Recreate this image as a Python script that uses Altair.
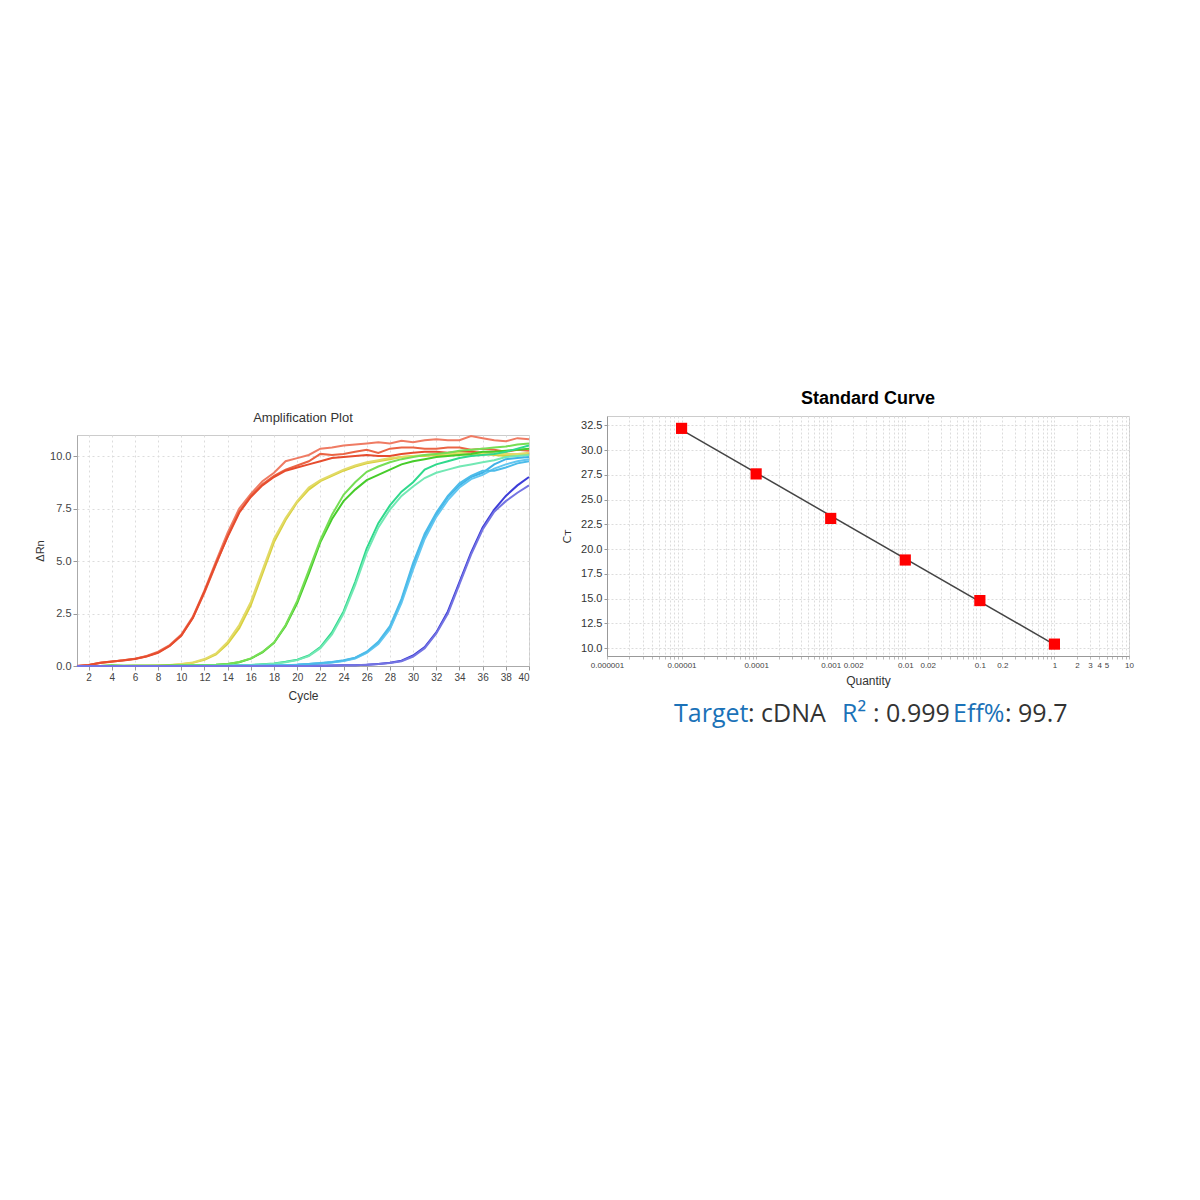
import altair as alt
import pandas as pd

# ---------------- Amplification plot data ----------------
cycles = list(range(1, 41))

red_a = [0.0, 0.05, 0.15, 0.22, 0.28, 0.35, 0.48, 0.68, 1.0, 1.5, 2.35, 3.6, 5.0, 6.35, 7.5, 8.2, 8.8, 9.2, 9.75, 9.9,
         10.05, 10.35, 10.4, 10.5, 10.55, 10.6, 10.65, 10.6, 10.72, 10.65, 10.75, 10.8, 10.75, 10.75, 10.95, 10.85, 10.75, 10.7, 10.85, 10.8]
red_b = [0.0, 0.04, 0.14, 0.2, 0.27, 0.34, 0.46, 0.65, 0.97, 1.45, 2.3, 3.5, 4.85, 6.2, 7.35, 8.1, 8.65, 9.05, 9.35, 9.55,
         9.75, 10.1, 10.05, 10.1, 10.2, 10.3, 10.15, 10.35, 10.4, 10.4, 10.35, 10.35, 10.4, 10.4, 10.3, 10.35, 10.3, 10.2, 10.3, 10.25]
red_c = [0.0, 0.05, 0.15, 0.21, 0.26, 0.33, 0.45, 0.63, 0.95, 1.45, 2.3, 3.55, 4.9, 6.15, 7.3, 8.05, 8.6, 9.0, 9.3, 9.45,
         9.6, 9.75, 9.9, 9.95, 10.0, 10.05, 10.0, 10.0, 10.1, 10.15, 10.2, 10.2, 10.15, 10.2, 10.2, 10.15, 10.1, 10.05, 10.1, 10.1]
yel_a = [0.0, 0.0, 0.0, 0.0, 0.0, 0.01, 0.01, 0.02, 0.04, 0.08, 0.15, 0.3, 0.55, 1.05, 1.8, 2.9, 4.4, 5.9, 6.95, 7.8,
         8.4, 8.8, 9.05, 9.3, 9.5, 9.65, 9.75, 9.85, 9.95, 10.0, 10.0, 10.05, 10.05, 10.1, 10.05, 10.1, 10.05, 10.0, 10.05, 10.05]
yel_b = [0.0, 0.0, 0.0, 0.0, 0.0, 0.01, 0.01, 0.02, 0.05, 0.09, 0.17, 0.33, 0.6, 1.15, 1.95, 3.05, 4.55, 6.05, 7.05, 7.85,
         8.5, 8.85, 9.1, 9.35, 9.55, 9.7, 9.8, 9.9, 9.95, 10.0, 10.05, 10.1, 10.1, 10.15, 10.1, 10.15, 10.1, 10.1, 10.1, 10.15]
grn_a = [0.0, 0.0, 0.0, 0.02, 0.01, 0.01, 0.01, 0.01, 0.02, 0.02, 0.03, 0.04, 0.06, 0.1, 0.18, 0.35, 0.65, 1.1, 1.9, 3.0,
         4.4, 5.9, 7.0, 7.85, 8.4, 8.85, 9.1, 9.35, 9.6, 9.75, 9.85, 9.95, 10.0, 10.05, 10.1, 10.2, 10.2, 10.25, 10.3, 10.35]
grn_b = [0.0, 0.0, 0.0, 0.03, 0.01, 0.01, 0.01, 0.01, 0.02, 0.02, 0.03, 0.04, 0.06, 0.1, 0.19, 0.36, 0.67, 1.12, 1.95, 3.1,
         4.55, 6.0, 7.2, 8.15, 8.75, 9.25, 9.5, 9.7, 9.85, 9.95, 10.05, 10.1, 10.15, 10.25, 10.3, 10.35, 10.4, 10.45, 10.55, 10.6]
tea_a = [0.0, 0.0, 0.0, 0.0, 0.0, 0.0, 0.0, 0.0, 0.0, 0.01, 0.01, 0.01, 0.01, 0.02, 0.03, 0.05, 0.08, 0.12, 0.2, 0.3,
         0.5, 0.9, 1.6, 2.6, 4.0, 5.6, 6.8, 7.65, 8.3, 8.75, 9.35, 9.6, 9.75, 9.9, 10.0, 10.05, 10.1, 10.2, 10.35, 10.5]
tea_b = [0.0, 0.0, 0.0, 0.0, 0.0, 0.0, 0.0, 0.0, 0.0, 0.01, 0.01, 0.01, 0.01, 0.02, 0.03, 0.05, 0.07, 0.11, 0.18, 0.28,
         0.47, 0.85, 1.5, 2.5, 3.85, 5.4, 6.6, 7.45, 8.1, 8.55, 8.95, 9.2, 9.35, 9.5, 9.6, 9.7, 9.8, 9.95, 10.0, 10.05]
blu_a = [0.0, 0.0, 0.0, 0.0, 0.0, 0.0, 0.0, 0.0, 0.0, 0.0, 0.0, 0.0, 0.0, 0.0, 0.01, 0.01, 0.01, 0.02, 0.04, 0.06,
         0.1, 0.13, 0.18, 0.25, 0.38, 0.65, 1.1, 1.8, 3.1, 4.8, 6.2, 7.2, 8.05, 8.6, 9.0, 9.2, 9.6, 9.85, 9.9, 9.95]
blu_b = [0.0, 0.0, 0.0, 0.0, 0.0, 0.0, 0.0, 0.0, 0.0, 0.0, 0.0, 0.0, 0.0, 0.0, 0.01, 0.01, 0.01, 0.02, 0.04, 0.06,
         0.09, 0.12, 0.17, 0.24, 0.36, 0.62, 1.05, 1.75, 3.0, 4.6, 6.05, 7.1, 7.9, 8.5, 8.9, 9.1, 9.4, 9.6, 9.75, 9.85]
blu_c = [0.0, 0.0, 0.0, 0.0, 0.0, 0.0, 0.0, 0.0, 0.0, 0.0, 0.0, 0.0, 0.0, 0.0, 0.01, 0.01, 0.01, 0.02, 0.04, 0.06,
         0.1, 0.14, 0.19, 0.27, 0.4, 0.68, 1.15, 1.9, 3.2, 4.9, 6.3, 7.3, 8.1, 8.7, 9.05, 9.3, 9.3, 9.45, 9.65, 9.75]
ind_a = [0.0, 0.0, 0.0, 0.0, 0.0, 0.0, 0.0, 0.0, 0.0, 0.0, 0.0, 0.0, 0.0, 0.0, 0.0, 0.0, 0.0, 0.0, 0.0, 0.0,
         0.0, 0.01, 0.02, 0.03, 0.04, 0.06, 0.1, 0.15, 0.25, 0.5, 0.9, 1.6, 2.6, 4.0, 5.4, 6.6, 7.45, 8.1, 8.6, 9.0]
ind_b = [0.0, 0.0, 0.0, 0.0, 0.0, 0.0, 0.0, 0.0, 0.0, 0.0, 0.0, 0.0, 0.0, 0.0, 0.0, 0.0, 0.0, 0.0, 0.0, 0.0,
         0.0, 0.01, 0.02, 0.03, 0.04, 0.06, 0.09, 0.14, 0.23, 0.45, 0.85, 1.55, 2.5, 3.9, 5.3, 6.5, 7.35, 7.85, 8.25, 8.6]

rep_names = ["R1", "R2", "R3", "Y1", "Y2", "G1", "G2", "T1", "T2", "B1", "B2", "B3", "I1", "I2"]
rep_series = [red_a, red_b, red_c, yel_a, yel_b, grn_a, grn_b, tea_a, tea_b, blu_a, blu_b, blu_c, ind_a, ind_b]
rep_colors = ["#ef7b63", "#ea6444", "#e64c2e", "#d8d03e", "#e2da66", "#46cc2a", "#76de54",
              "#2fd98c", "#72e8b4", "#3fb2e6", "#62c6f0", "#4cbbe9", "#3c3cd8", "#7474e2"]

rows = []
for name, series in zip(rep_names, rep_series):
    for c, v in zip(cycles, series):
        rows.append({"cycle": c, "dRn": v, "rep": name})
amp_df = pd.DataFrame(rows)

cycle_ticks = list(range(2, 41, 2))
drn_ticks = [0.0, 2.5, 5.0, 7.5, 10.0]

# ---------------- Standard curve data ----------------
quantity = [0.00001, 0.0001, 0.001, 0.01, 0.1, 1]
ct = [32.2, 27.6, 23.1, 18.9, 14.8, 10.4]
fit_quantity = [0.00001, 1]
fit_ct = [32.05, 10.35]
ct_ticks = [10.0, 12.5, 15.0, 17.5, 20.0, 22.5, 25.0, 27.5, 30.0, 32.5]
q_labels = ["0.000001", "0.00001", "0.0001", "0.001", "0.002", "0.01", "0.02", "0.1", "0.2",
            "1", "2", "3", "4", "5", "10"]
q_grid = []
for e in range(-6, 1):
    for k in range(1, 10):
        q_grid.append(float(f"{k}e{e}"))
q_grid.append(10.0)

ann_texts = ["Target", ": cDNA", "R²", ": 0.999", "Eff%", ": 99.7"]
ann_colors = ["#1b72b8", "#333333", "#1b72b8", "#333333", "#1b72b8", "#333333"]
ann_x = [67, 141, 235, 266, 346, 398]

AX_FONT = "Liberation Sans Narrow, Liberation Sans, Arial, sans-serif"

# ---------------- Left chart ----------------
amp = alt.Chart(amp_df).mark_line(strokeWidth=2).encode(
    x=alt.X("cycle:Q",
            scale=alt.Scale(domain=[1, 40], nice=False, zero=False),
            axis=alt.Axis(values=cycle_ticks, title="Cycle", labelFont=AX_FONT, labelFontSize=10,
                          labelColor="#444", titleFont=AX_FONT, titleFontSize=12, titleFontWeight="normal",
                          titleColor="#333", titlePadding=8, tickSize=4, tickColor="#999",
                          domainColor="#aaa", gridColor="#dcdcdc", gridDash=[2, 3], labelPadding=2)),
    y=alt.Y("dRn:Q",
            scale=alt.Scale(domain=[0, 11], nice=False),
            axis=alt.Axis(values=drn_ticks, format=".1f", title="ΔRn", labelFont=AX_FONT, labelFontSize=11,
                          labelColor="#444", titleFont=AX_FONT, titleFontSize=11, titleFontWeight="normal",
                          titleColor="#333", titlePadding=4, tickSize=4, tickColor="#999",
                          domainColor="#aaa", gridColor="#dcdcdc", gridDash=[2, 3], labelPadding=2)),
    color=alt.Color("rep:N", scale=alt.Scale(domain=rep_names, range=rep_colors), legend=None),
    detail="rep:N",
).properties(
    width=452, height=231,
    title=alt.TitleParams("Amplification Plot", font=AX_FONT, fontSize=13, fontWeight="normal",
                          color="#333", offset=7),
)

# invisible spacer that lets the left plot sit lower than the right one
spacer = alt.Chart(pd.DataFrame({"s": [""]})).mark_text(opacity=0, fontSize=1).encode(
    text="s:N", x=alt.value(0), y=alt.value(0)
).properties(width=1, height=1, view=alt.ViewBackground(stroke="transparent"))

left = alt.vconcat(spacer, amp, spacing=-7)

# ---------------- Right chart ----------------
label_list = "[" + ",".join(f"'{s}'" for s in q_labels) + "]"
std_df = pd.DataFrame({"quantity": quantity, "ct": ct})
fit_df = pd.DataFrame({"quantity": fit_quantity, "ct": fit_ct})

x_enc = alt.X("quantity:Q",
              scale=alt.Scale(type="log", domain=[0.000001, 10], nice=False),
              axis=alt.Axis(values=q_grid, format=".6~f",
                            labelExpr=f"indexof({label_list}, datum.label) >= 0 ? datum.label : ''",
                            title="Quantity", labelFont=AX_FONT, labelFontSize=8, labelColor="#444",
                            titleFont=AX_FONT, titleFontSize=12, titleFontWeight="normal", titleColor="#333",
                            titlePadding=6, tickSize=3, tickColor="#bbb", domainColor="#999",
                            gridColor="#dcdcdc", gridDash=[2, 2], labelPadding=2, labelOverlap=False,
                            labelFlush=False))
y_enc = alt.Y("ct:Q",
              scale=alt.Scale(domain=[9.2, 33.45], nice=False, zero=False),
              axis=alt.Axis(values=ct_ticks, format=".1f", title="Cᴛ", labelFont=AX_FONT, labelFontSize=11,
                            labelColor="#333", titleFont="DejaVu Sans, Liberation Sans, sans-serif",
                            titleFontSize=11, titleFontWeight="normal", titleColor="#333", titlePadding=8,
                            tickSize=3, tickColor="#999", domainColor="#999", gridColor="#dcdcdc",
                            gridDash=[2, 2], labelPadding=2))

fit_line = alt.Chart(fit_df).mark_line(color="#444444", strokeWidth=1.5).encode(x=x_enc, y=y_enc)
pts = alt.Chart(std_df).mark_square(size=125, color="#ff0000", opacity=1).encode(x=x_enc, y=y_enc)

ann_layers = []
for t, col, xp in zip(ann_texts, ann_colors, ann_x):
    ann_layers.append(
        alt.Chart(pd.DataFrame({"t": [t]})).mark_text(
            font="Open Sans, Noto Sans, sans-serif", fontSize=25, align="left", baseline="alphabetic",
            color=col,
        ).encode(x=alt.value(xp), y=alt.value(306), text="t:N")
    )

std = alt.layer(fit_line, pts, *ann_layers).properties(
    width=522, height=240,
    title=alt.TitleParams("Standard Curve", font="Liberation Sans, Arial, sans-serif", fontSize=18,
                          fontWeight="bold", color="#000", offset=8),
)

chart = alt.hconcat(left, std, spacing=27).properties(
    padding={"left": 26, "top": 381, "right": 5, "bottom": 5}
).configure_view(stroke="#cccccc").configure_concat(spacing=27)

chart.save("out.html", embed_options={"renderer": "svg", "actions": False})
